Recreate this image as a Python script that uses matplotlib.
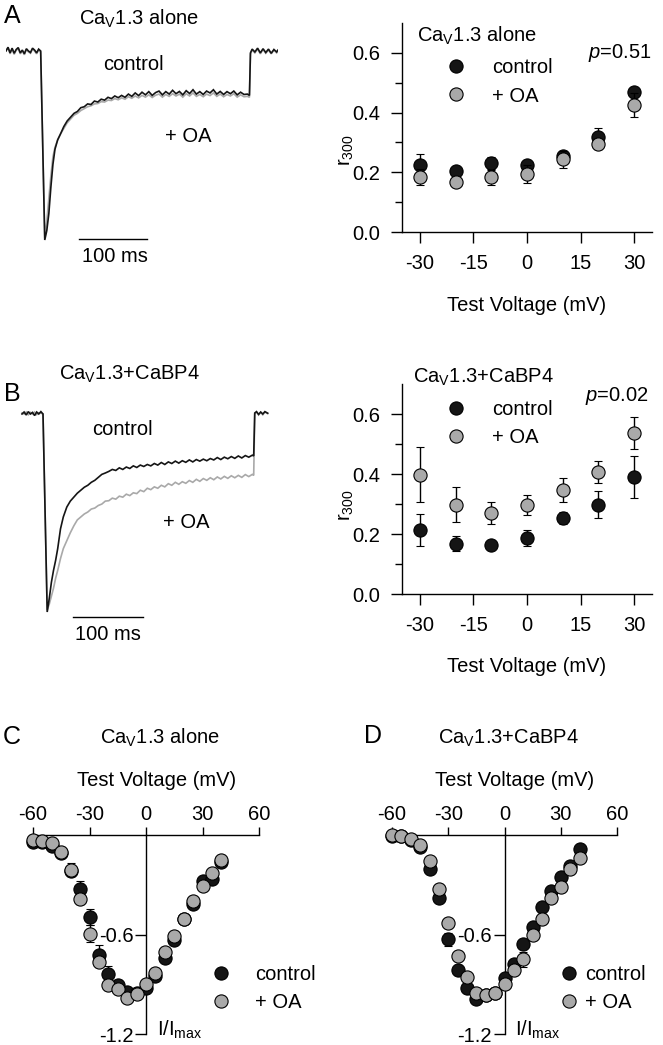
import matplotlib
matplotlib.use("Agg")
import matplotlib.pyplot as plt
from matplotlib.lines import Line2D

plt.rcParams.update({
    "font.family": ["Liberation Sans", "DejaVu Sans"],
    "font.size": 14.5,
    "mathtext.fontset": "custom",
    "mathtext.rm": "Liberation Sans",
    "mathtext.it": "Liberation Sans:italic",
    "mathtext.bf": "Liberation Sans:bold",
    "axes.unicode_minus": False,
    "axes.linewidth": 1.0,
})

# ---------------- data ----------------
# Panel A example traces (time in ms, normalized current)
tA = [0, 3, 6, 9, 12, 15, 18, 21, 24, 27, 30, 33, 36, 39, 42, 45, 48, 51,
      57, 60, 63, 66, 69, 72, 76, 80, 85, 90, 95,
      100, 105, 110, 115, 120, 125, 130, 135, 140, 145, 150, 155, 160, 165, 170, 175,
      180, 185, 190, 195, 200, 205, 210, 215, 220, 225, 230, 235, 240, 245, 250, 255,
      260, 265, 270, 275, 280, 285, 290, 295, 300, 305, 310, 315, 320, 325, 330, 335,
      340, 345, 350, 355,
      358, 359.5, 362, 366, 370, 374, 378, 382, 386, 390, 394, 398, 400]
ctrlA = [0.00, 0.02, -0.01, 0.015, -0.012, 0.008, 0.018, -0.01, 0.005, -0.015, 0.012, 0.0,
         -0.008, 0.015, 0.005, -0.01, 0.01, 0.0,
         -1.00, -0.95, -0.86, -0.72, -0.60, -0.52, -0.47, -0.44, -0.40, -0.37, -0.35,
         -0.33, -0.32, -0.30, -0.295, -0.28, -0.283, -0.265, -0.27, -0.255, -0.26, -0.245,
         -0.252, -0.238, -0.247, -0.235, -0.245, -0.228, -0.24, -0.222, -0.236, -0.218,
         -0.232, -0.215, -0.235, -0.22, -0.212, -0.232, -0.215, -0.228, -0.208, -0.226,
         -0.214, -0.232, -0.21, -0.225, -0.205, -0.228, -0.215, -0.23, -0.212, -0.222,
         -0.205, -0.228, -0.214, -0.23, -0.215, -0.226, -0.212, -0.232, -0.218, -0.23, -0.228,
         -0.235, -0.01, 0.01, -0.005, 0.015, -0.01, 0.012, -0.008, 0.01, -0.012, 0.008,
         -0.005, 0.005]
oaA = [0.005, 0.015, -0.015, 0.01, -0.018, 0.004, 0.012, -0.015, 0.0, -0.02, 0.008, -0.005,
       -0.012, 0.01, 0.0, -0.015, 0.005, -0.005,
       -0.99, -0.90, -0.78, -0.66, -0.56, -0.51, -0.47, -0.44, -0.41, -0.38, -0.36,
       -0.34, -0.33, -0.315, -0.305, -0.295, -0.29, -0.28, -0.278, -0.268, -0.27, -0.26,
       -0.262, -0.252, -0.258, -0.248, -0.255, -0.242, -0.25, -0.238, -0.248, -0.235,
       -0.244, -0.232, -0.246, -0.234, -0.228, -0.244, -0.23, -0.24, -0.226, -0.238,
       -0.228, -0.244, -0.226, -0.238, -0.222, -0.24, -0.23, -0.242, -0.228, -0.236,
       -0.222, -0.24, -0.228, -0.242, -0.23, -0.238, -0.226, -0.244, -0.232, -0.242, -0.24,
       -0.245, -0.015, 0.005, -0.01, 0.01, -0.015, 0.008, -0.012, 0.005, -0.015, 0.004,
       -0.01, 0.0]

# Panel B example traces
tB = [21, 24, 27, 30, 33, 36, 39, 42, 45, 48, 51,
      57, 60, 63, 66, 69, 72, 76, 80, 85, 90, 95,
      100, 105, 110, 115, 120, 125, 130, 135, 140, 145, 150, 155, 160, 165, 170, 175,
      180, 185, 190, 195, 200, 205, 210, 215, 220, 225, 230, 235, 240, 245, 250, 255,
      260, 265, 270, 275, 280, 285, 290, 295, 300, 305, 310, 315, 320, 325, 330, 335,
      340, 345, 350,
      352, 353.5, 356, 359, 362, 365, 368, 372]
ctrlB = [0.0, 0.01, -0.005, 0.012, 0.0, 0.008, -0.008, 0.01, 0.0, 0.012, 0.0,
         -1.0, -0.93, -0.85, -0.79, -0.74, -0.68, -0.58, -0.52, -0.47, -0.44, -0.42,
         -0.40, -0.385, -0.37, -0.36, -0.345, -0.335, -0.32, -0.305, -0.298, -0.29, -0.28,
         -0.285, -0.272, -0.28, -0.268, -0.275, -0.262, -0.27, -0.258, -0.265, -0.255,
         -0.262, -0.25, -0.258, -0.245, -0.255, -0.242, -0.25, -0.238, -0.248, -0.236,
         -0.244, -0.232, -0.242, -0.23, -0.238, -0.228, -0.236, -0.225, -0.232, -0.22,
         -0.23, -0.218, -0.226, -0.215, -0.224, -0.212, -0.222, -0.21, -0.218, -0.208,
         -0.212, 0.005, 0.012, -0.002, 0.01, 0.0, 0.012, 0.004]
oaB = [0.005, 0.0, 0.01, -0.004, 0.008, 0.0, 0.01, -0.003, 0.006, 0.004, 0.0,
       -0.99, -0.96, -0.92, -0.88, -0.83, -0.79, -0.73, -0.68, -0.64, -0.60, -0.565,
       -0.535, -0.52, -0.505, -0.495, -0.48, -0.475, -0.462, -0.455, -0.44, -0.438, -0.425,
       -0.43, -0.415, -0.42, -0.405, -0.412, -0.398, -0.402, -0.385, -0.392, -0.375,
       -0.382, -0.368, -0.375, -0.36, -0.368, -0.352, -0.36, -0.345, -0.355, -0.342,
       -0.35, -0.336, -0.345, -0.33, -0.34, -0.326, -0.335, -0.322, -0.332, -0.318,
       -0.328, -0.315, -0.325, -0.312, -0.322, -0.31, -0.32, -0.306, -0.316, -0.305,
       -0.31, 0.0, 0.01, -0.005, 0.008, -0.004, 0.01, 0.002]

# r300 vs test voltage
volt_r = [-30, -20, -10, 0, 10, 20, 30]
rA_ctrl = [0.225, 0.205, 0.23, 0.225, 0.256, 0.317, 0.468]
rA_ctrl_err = [0.035, 0.012, 0.02, 0.012, 0.012, 0.033, 0.015]
rA_oa = [0.184, 0.166, 0.183, 0.194, 0.244, 0.294, 0.425]
rA_oa_err = [0.026, 0.012, 0.024, 0.03, 0.028, 0.015, 0.039]
rB_ctrl = [0.214, 0.167, 0.162, 0.187, 0.253, 0.298, 0.389]
rB_ctrl_err = [0.054, 0.025, 0.01, 0.027, 0.02, 0.044, 0.07]
rB_oa = [0.398, 0.298, 0.27, 0.296, 0.346, 0.407, 0.537]
rB_oa_err = [0.092, 0.059, 0.037, 0.033, 0.04, 0.037, 0.053]

# I-V curves
volt_iv = [-60, -55, -50, -45, -40, -35, -30, -25, -20, -15, -10, -5, 0, 5, 10, 15, 20,
           25, 30, 35, 40]
ivC_ctrl = [-0.045, -0.04, -0.065, -0.11, -0.22, -0.327, -0.495, -0.723, -0.838, -0.907,
            -0.945, -0.955, -0.92, -0.85, -0.739, -0.634, -0.505, -0.416, -0.277, -0.267,
            -0.164]
ivC_ctrl_err = [0.01, 0.01, 0.01, 0.01, 0.03, 0.05, 0.05, 0.06, 0.05, 0.03, 0.02, 0.02,
                0.02, 0.02, 0.02, 0.02, 0.02, 0.02, 0.02, 0.02, 0.02]
ivC_oa = [-0.03, -0.034, -0.046, -0.10, -0.21, -0.386, -0.594, -0.766, -0.907, -0.93,
          -0.984, -0.96, -0.897, -0.832, -0.703, -0.608, -0.505, -0.40, -0.307, -0.228,
          -0.152]
ivC_oa_err = [0.01, 0.01, 0.01, 0.02, 0.04, 0.03, 0.05, 0.03, 0.03, 0.02, 0.02, 0.02,
              0.02, 0.02, 0.02, 0.02, 0.02, 0.02, 0.02, 0.02, 0.02]
ivD_ctrl = [-0.005, -0.005, -0.03, -0.07, -0.207, -0.38, -0.63, -0.817, -0.925, -0.988,
            -0.965, -0.95, -0.862, -0.777, -0.659, -0.557, -0.437, -0.335, -0.256, -0.187,
            -0.085]
ivD_ctrl_err = [0.01, 0.01, 0.01, 0.01, 0.02, 0.02, 0.04, 0.03, 0.02, 0.02, 0.02, 0.02,
                0.02, 0.02, 0.02, 0.02, 0.02, 0.02, 0.02, 0.02, 0.02]
ivD_oa = [0.0, -0.004, -0.024, -0.06, -0.157, -0.325, -0.528, -0.728, -0.856, -0.955,
          -0.965, -0.95, -0.90, -0.817, -0.748, -0.60, -0.508, -0.38, -0.315, -0.207, -0.138]
ivD_oa_err = [0.01, 0.01, 0.01, 0.01, 0.02, 0.02, 0.02, 0.02, 0.02, 0.02, 0.02, 0.02,
              0.02, 0.02, 0.045, 0.02, 0.02, 0.02, 0.02, 0.02, 0.02]

r_xticks = [-30, -15, 0, 15, 30]
r_yticks = [0.0, 0.2, 0.4, 0.6]
r_yticks_minor = [0.1, 0.3, 0.5]
iv_xticks = [-60, -30, 0, 30, 60]
iv_yticks = [-1.2, -0.6]
iv_yticklabels = ["-1.2", "-0.6"]

BLACK = "#151515"
GRAY = "#a9a9a9"
FS = 14.5
EM = FS * 100 / 72  # font size in pixels

# ---------------- figure ----------------
W, H = 663, 1045
fig = plt.figure(figsize=(W / 100, H / 100), dpi=100)


def axpx(l, t, r, b):
    return fig.add_axes([l / W, 1 - b / H, (r - l) / W, (b - t) / H])


def txt(x, y, s, **kw):
    kw.setdefault("fontsize", FS)
    return fig.text(x / W, 1 - y / H, s, **kw)


def legend_at(ax, x_marker, x_text, y_center):
    handles = [
        Line2D([], [], marker="o", ls="none", mfc=BLACK, mec="black", mew=0.8, ms=9.5,
               label="control"),
        Line2D([], [], marker="o", ls="none", mfc=GRAY, mec="black", mew=0.8, ms=9.5,
               label="+ OA"),
    ]
    hl = 1.0
    pad = (x_text - x_marker - hl * EM / 2) / EM
    ax.legend(handles=handles, loc="center left",
              bbox_to_anchor=((x_marker - hl * EM / 2) / W, 1 - y_center / H),
              bbox_transform=fig.transFigure, frameon=False, handlelength=hl,
              handletextpad=pad, labelspacing=0.45, borderpad=0, borderaxespad=0,
              fontsize=FS, numpoints=1)


# ---- trace panels ----
def trace_panel(box, y0px, ypeak, t, ctrl, oa, bar_t, bar_y):
    l, t_, r, b = box
    ax = axpx(l, t_, r, b)
    unit = ypeak - y0px
    ax.set_xlim(0, 400)
    ax.set_ylim(-(b - y0px) / unit, (y0px - t_) / unit)
    ax.plot(t, oa, color=GRAY, lw=1.2, solid_joinstyle="miter")
    ax.plot(t, ctrl, color=BLACK, lw=1.2, solid_joinstyle="miter")
    ax.plot(bar_t, [bar_y, bar_y], color="black", lw=1.0, clip_on=False)
    ax.axis("off")
    return ax


trace_panel((6, 30, 278, 260), 51, 240, tA, ctrlA, oaA, [107, 207], -0.995)
trace_panel((7.3, 400, 287.3, 640), 414, 612, tB, ctrlB, oaB, [94, 194], -1.025)

txt(12, 16, "A", fontsize=18, ha="center", va="center")
txt(139, 25, r"Ca$_\mathrm{V}$1.3 alone", ha="center", va="baseline")
txt(133, 65, "control", ha="center", va="center")
txt(165, 137, "+ OA", ha="left", va="center")
txt(115, 256, "100 ms", ha="center", va="center")

txt(12, 394, "B", fontsize=18, ha="center", va="center")
txt(129, 380, r"Ca$_\mathrm{V}$1.3+CaBP4", ha="center", va="baseline")
txt(122, 430, "control", ha="center", va="center")
txt(163, 522, "+ OA", ha="left", va="center")
txt(108, 634, "100 ms", ha="center", va="center")


# ---- r300 panels ----
def r_panel(top, bottom, ctrl, ctrl_err, oa, oa_err):
    ax = axpx(402, top, 652, bottom)
    ax.set_xlim(-35, 35)
    ax.set_ylim(0, 0.7)
    for s in ("top", "right"):
        ax.spines[s].set_visible(False)
    ax.set_xticks(r_xticks)
    ax.set_xticklabels([str(v) for v in r_xticks])
    ax.set_yticks(r_yticks)
    ax.set_yticklabels([f"{v:.1f}" for v in r_yticks])
    ax.set_yticks(r_yticks_minor, minor=True)
    ax.tick_params(axis="both", which="major", direction="out", length=8, width=1,
                   labelsize=FS)
    ax.tick_params(axis="y", which="major", pad=8)
    ax.tick_params(axis="x", which="major", pad=8)
    ax.tick_params(axis="y", which="minor", direction="out", length=5, width=1)
    ax.errorbar(volt_r, ctrl, yerr=ctrl_err, fmt="o", mfc=BLACK, mec="black", mew=0.8,
                ms=9.5, ecolor="black", elinewidth=1, capsize=3.2, capthick=1,
                zorder=3, clip_on=False)
    ax.errorbar(volt_r, oa, yerr=oa_err, fmt="o", mfc=GRAY, mec="black", mew=0.8,
                ms=9.5, ecolor="black", elinewidth=1, capsize=3.2, capthick=1,
                zorder=4, clip_on=False)
    return ax


axRA = r_panel(23, 232, rA_ctrl, rA_ctrl_err, rA_oa, rA_oa_err)
legend_at(axRA, 456, 492, 82)
txt(417, 42, r"Ca$_\mathrm{V}$1.3 alone", ha="left", va="baseline")
txt(652, 53, r"$p$=0.51", ha="right", va="center")
txt(346, 150, r"r$_{300}$", rotation=90, ha="center", va="center")
txt(527, 305, "Test Voltage (mV)", ha="center", va="center")

axRB = r_panel(384, 594, rB_ctrl, rB_ctrl_err, rB_oa, rB_oa_err)
legend_at(axRB, 456, 492, 423.5)
txt(413, 383, r"Ca$_\mathrm{V}$1.3+CaBP4", ha="left", va="baseline")
txt(649, 396, r"$p$=0.02", ha="right", va="center")
txt(346, 505, r"r$_{300}$", rotation=90, ha="center", va="center")
txt(527, 666, "Test Voltage (mV)", ha="center", va="center")


# ---- I-V panels ----
def iv_panel(l, r, ctrl, ctrl_err, oa, oa_err):
    ax = axpx(l, 835, r, 1034)
    ax.set_xlim(-60, 60)
    ax.set_ylim(-1.2, 0)
    ax.patch.set_visible(False)
    ax.spines["bottom"].set_visible(False)
    ax.spines["right"].set_visible(False)
    ax.spines["left"].set_position(("data", 0))
    ax.xaxis.set_ticks_position("top")
    ax.xaxis.set_label_position("top")
    ax.set_xticks(iv_xticks)
    ax.set_xticklabels([str(v) for v in iv_xticks])
    ax.set_yticks(iv_yticks)
    ax.set_yticklabels(iv_yticklabels)
    ax.tick_params(axis="x", direction="out", length=6, width=1, pad=2, labelsize=FS)
    ax.tick_params(axis="y", direction="out", length=8, width=1, pad=1, labelsize=FS)
    ax.errorbar(volt_iv, ctrl, yerr=ctrl_err, fmt="o", mfc=BLACK, mec="black", mew=0.8,
                ms=9.5, ecolor="black", elinewidth=1, capsize=3.2, capthick=1,
                zorder=3, clip_on=False)
    ax.errorbar(volt_iv, oa, yerr=oa_err, fmt="o", mfc=GRAY, mec="black", mew=0.8,
                ms=9.5, ecolor="black", elinewidth=1, capsize=3.2, capthick=1,
                zorder=4, clip_on=False)
    return ax


axC = iv_panel(33, 259, ivC_ctrl, ivC_ctrl_err, ivC_oa, ivC_oa_err)
legend_at(axC, 221, 255, 988.5)
txt(12, 737, "C", fontsize=18, ha="center", va="center")
txt(160, 744, r"Ca$_\mathrm{V}$1.3 alone", ha="center", va="baseline")
txt(157, 780, "Test Voltage (mV)", ha="center", va="center")
txt(157, 1036, r"I/I$_\mathrm{max}$", ha="left", va="baseline")

axD = iv_panel(392, 617, ivD_ctrl, ivD_ctrl_err, ivD_oa, ivD_oa_err)
legend_at(axD, 569, 585, 988.5)
txt(373, 736, "D", fontsize=18, ha="center", va="center")
txt(508, 744, r"Ca$_\mathrm{V}$1.3+CaBP4", ha="center", va="baseline")
txt(515, 780, "Test Voltage (mV)", ha="center", va="center")
txt(515, 1036, r"I/I$_\mathrm{max}$", ha="left", va="baseline")

fig.savefig("out.png", dpi=100)
